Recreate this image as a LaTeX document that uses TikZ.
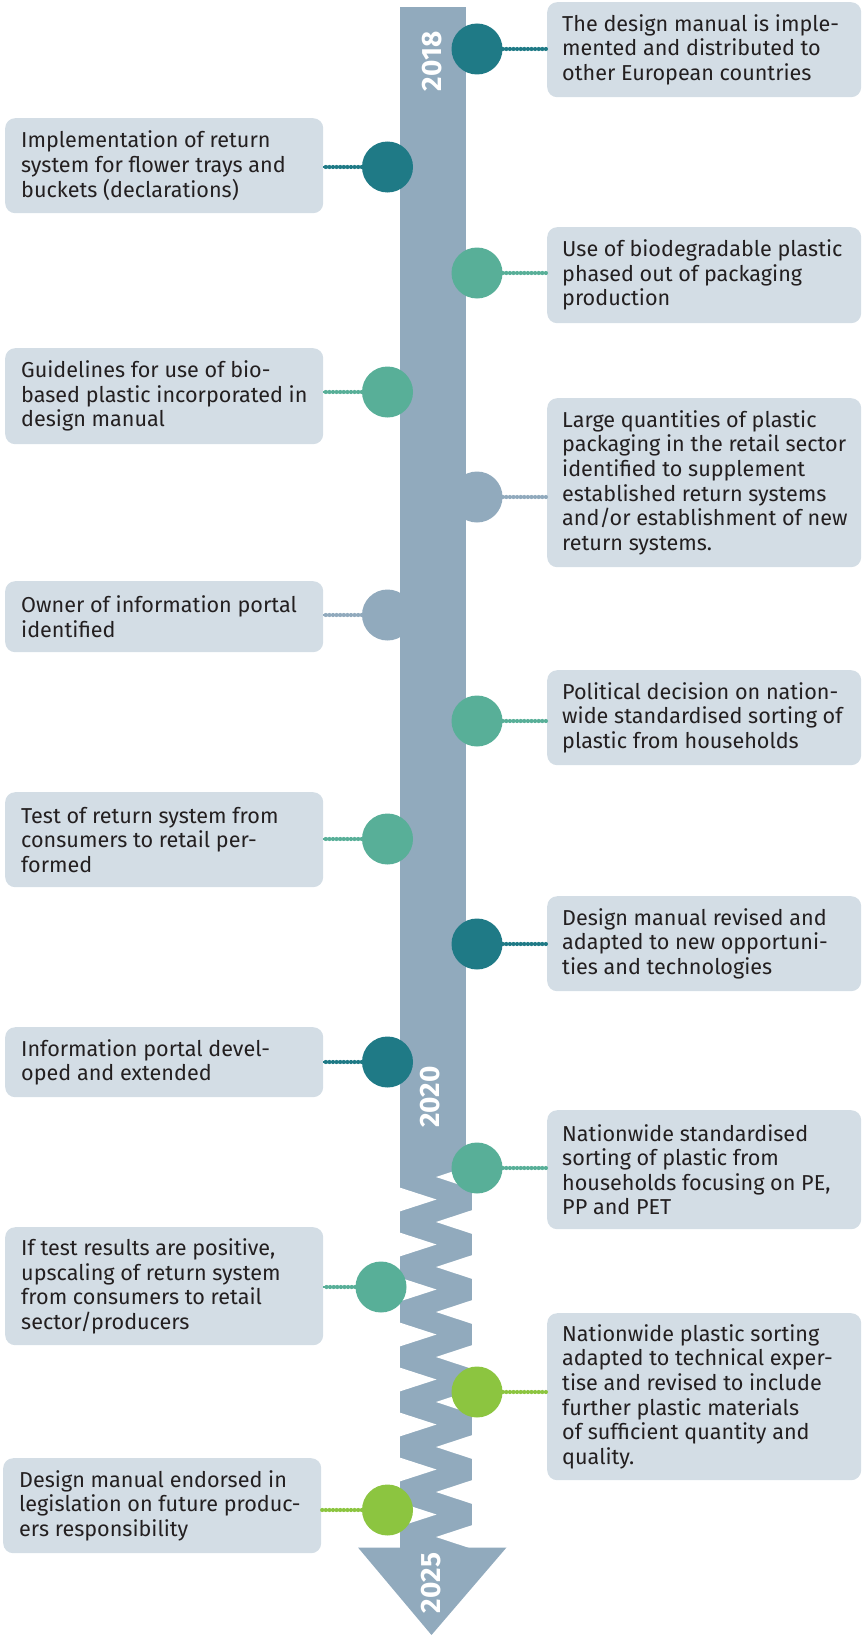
\documentclass[tikz,border=0pt]{standalone}
\usepackage{fontspec}
\setmainfont{Fira Sans}
\newfontfamily\yearfont{Fira Sans}
\definecolor{barc}{HTML}{91AABD}
\definecolor{boxc}{HTML}{D3DDE5}
\definecolor{tealdark}{HTML}{1F7A86}
\definecolor{tealgreen}{HTML}{58AF98}
\definecolor{limec}{HTML}{8CC540}
\definecolor{txtc}{HTML}{231F20}
\begin{document}
\begin{tikzpicture}[x=1pt,y=-1pt,
  lbox/.style={fill=boxc, rounded corners=10pt, inner sep=0pt, anchor=north west, minimum width=318pt},
  rbox/.style={fill=boxc, rounded corners=10pt, inner sep=0pt, anchor=north west, minimum width=314pt},
  txt/.style={font=\fontsize{21.6}{24.6}\selectfont, text=txtc, align=left, inner sep=0pt, anchor=west},
  dot/.style={circle, minimum size=51pt, inner sep=0pt},
  year/.style={text=white, font=\yearfont\bfseries\fontsize{28}{28}\selectfont, rotate=90, inner sep=0pt},
  link/.style={draw=#1, line width=4.2pt, dash pattern=on 0pt off 3.6pt, line cap=round,
     preaction={draw=#1, line width=2.4pt, solid, line cap=butt}}]
\useasboundingbox (0,0) rectangle (862,1635);
% time bar
\fill[barc] (400,7) rectangle (465.5,1166);
\fill[barc] (400,1165) rectangle (472,1548.5);
\foreach \k in {0,...,8} {
  \fill[white] (472.5,{1165+45*\k}) -- (436,{1177+45*\k}) -- (472.5,{1189+45*\k}) -- cycle;
}
\foreach \k in {0,...,7} {
  \fill[white] (399.5,{1187.5+45*\k}) -- (436.5,{1199.5+45*\k}) -- (399.5,{1211.5+45*\k}) -- cycle;
}
\fill[barc] (358,1547.5) -- (506.5,1547.5) -- (431.5,1635) -- cycle;
\node[year] (y18) at (432,61.5) {2018};
\node[year] (y20) at (430,1097) {2020};
\node[year] (y25) at (431.5,1583) {2025};

% boxes
\node[rbox, minimum height=95pt] (R1) at (547,2) {};
\node[txt] (R1t) at ([xshift=15pt]R1.west) {The design manual is imple-\\mented and distributed to\\other European countries};
\node[lbox, minimum height=95pt] (L1) at (5,118) {};
\node[txt] (L1t) at ([xshift=16pt]L1.west) {Implementation of return\\system for flower trays and\\buckets (declarations)};
\node[rbox, minimum height=96pt] (R2) at (547,227) {};
\node[txt] (R2t) at ([xshift=15pt]R2.west) {Use of biodegradable plastic\\phased out of packaging\\production};
\node[lbox, minimum height=96pt] (L2) at (5,348) {};
\node[txt] (L2t) at ([xshift=16pt]L2.west) {Guidelines for use of bio-\\based plastic incorporated in\\design manual};
\node[rbox, minimum height=169pt] (R3) at (547,398) {};
\node[txt] (R3t) at ([xshift=15pt]R3.west) {Large quantities of plastic\\packaging in the retail sector\\identified to supplement\\established return systems\\and/or establishment of new\\return systems.};
\node[lbox, minimum height=71pt] (L3) at (5,581) {};
\node[txt] (L3t) at ([xshift=16pt]L3.west) {Owner of information portal\\identified};
\node[rbox, minimum height=95pt] (R4) at (547,670) {};
\node[txt] (R4t) at ([xshift=15pt]R4.west) {Political decision on nation-\\wide standardised sorting of\\plastic from households};
\node[lbox, minimum height=95pt] (L4) at (5,792) {};
\node[txt] (L4t) at ([xshift=16pt]L4.west) {Test of return system from\\consumers to retail per-\\formed};
\node[rbox, minimum height=95pt] (R5) at (547,896) {};
\node[txt] (R5t) at ([xshift=15pt]R5.west) {Design manual revised and\\adapted to new opportuni-\\ties and technologies};
\node[lbox, minimum height=70pt] (L5) at (5,1027) {};
\node[txt] (L5t) at ([xshift=16pt]L5.west) {Information portal devel-\\oped and extended};
\node[rbox, minimum height=119pt] (R6) at (547,1110) {};
\node[txt] (R6t) at ([xshift=15pt]R6.west) {Nationwide standardised\\sorting of plastic from\\households focusing on PE,\\PP and PET};
\node[lbox, minimum height=118pt] (L6) at (5,1227) {};
\node[txt] (L6t) at ([xshift=16pt]L6.west) {If test results are positive,\\upscaling of return system\\from consumers to retail\\sector/producers};
\node[rbox, minimum height=167pt] (R7) at (547,1313) {};
\node[txt] (R7t) at ([xshift=15pt]R7.west) {Nationwide plastic sorting\\adapted to technical exper-\\tise and revised to include\\further plastic materials\\of sufficient quantity and\\quality.};
\node[lbox, minimum height=95pt] (L7) at (3,1458) {};
\node[txt] (L7t) at ([xshift=16pt]L7.west) {Design manual endorsed in\\legislation on future produc-\\ers responsibility};

% milestones
\node[dot, fill=tealdark] (c1) at (477,49) {};
\node[dot, fill=tealdark] (c2) at (387.5,167) {};
\node[dot, fill=tealgreen] (c3) at (477,273) {};
\node[dot, fill=tealgreen] (c4) at (387.5,392) {};
\node[dot, fill=barc] (c5) at (477,497) {};
\node[dot, fill=barc] (c6) at (387.5,615) {};
\node[dot, fill=tealgreen] (c7) at (477,721) {};
\node[dot, fill=tealgreen] (c8) at (387.5,839) {};
\node[dot, fill=tealdark] (c9) at (477,944) {};
\node[dot, fill=tealdark] (c10) at (387.5,1062) {};
\node[dot, fill=tealgreen] (c11) at (477,1168) {};
\node[dot, fill=tealgreen] (c12) at (381,1287) {};
\node[dot, fill=limec] (c13) at (477,1392) {};
\node[dot, fill=limec] (c14) at (387.5,1510) {};

% connectors
\draw[link=tealdark] (c1.east) -- (c1.east -| R1.west);
\draw[link=tealdark] (c2.west) -- (c2.west -| L1.east);
\draw[link=tealgreen] (c3.east) -- (c3.east -| R2.west);
\draw[link=tealgreen] (c4.west) -- (c4.west -| L2.east);
\draw[link=barc] (c5.east) -- (c5.east -| R3.west);
\draw[link=barc] (c6.west) -- (c6.west -| L3.east);
\draw[link=tealgreen] (c7.east) -- (c7.east -| R4.west);
\draw[link=tealgreen] (c8.west) -- (c8.west -| L4.east);
\draw[link=tealdark] (c9.east) -- (c9.east -| R5.west);
\draw[link=tealdark] (c10.west) -- (c10.west -| L5.east);
\draw[link=tealgreen] (c11.east) -- (c11.east -| R6.west);
\draw[link=tealgreen] (c12.west) -- (c12.west -| L6.east);
\draw[link=limec] (c13.east) -- (c13.east -| R7.west);
\draw[link=limec] (c14.west) -- (c14.west -| L7.east);
\end{tikzpicture}
\end{document}
